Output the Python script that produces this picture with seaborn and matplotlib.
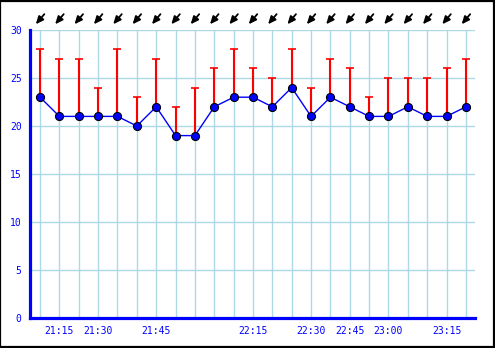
import numpy as np
import pandas as pd
import matplotlib
matplotlib.use("Agg")
import matplotlib.pyplot as plt
import seaborn as sns
from matplotlib.patches import Rectangle

# ---- data ----
avg_speed = [23, 21, 21, 21, 21, 20, 22, 19, 19, 22, 23, 23, 22, 24, 21, 23, 22, 21, 21, 22, 21, 21, 22]
gust_speed = [28, 27, 27, 24, 28, 23, 27, 22, 24, 26, 28, 26, 25, 28, 24, 27, 26, 23, 25, 25, 25, 26, 27]
tick_labels = ["", "21:15", "", "21:30", "", "", "21:45", "", "", "", "", "22:15",
               "", "", "22:30", "", "22:45", "", "23:00", "", "", "23:15", ""]
y_ticks = [0, 5, 10, 15, 20, 25, 30]

df = pd.DataFrame({"idx": np.arange(len(avg_speed)), "avg": avg_speed, "gust": gust_speed})

sns.set_style("white")
plt.rcParams["font.family"] = ["DejaVu Sans Mono", "DejaVu Sans"]

BLUE = "#0000ff"
GRID = "#add8e6"

fig = plt.figure(figsize=(4.95, 3.48), dpi=100)
ax = fig.add_axes([30 / 495, 30 / 348, 445 / 495, 288 / 348])

# grid
for y in y_ticks:
    ax.axhline(y, color=GRID, lw=1, zorder=0)
for i in df["idx"]:
    ax.axvline(i, color=GRID, lw=1, zorder=0)

# gust stems
upper = df["gust"] - df["avg"]
ax.errorbar(df["idx"], df["avg"], yerr=[np.zeros(len(df)), upper], fmt="none",
            ecolor="red", elinewidth=1.5, capsize=3, capthick=1.2, zorder=2)

# average line with markers
sns.lineplot(data=df, x="idx", y="avg", ax=ax, color=BLUE, lw=1, marker="o",
             markersize=5.8, markerfacecolor=BLUE, markeredgecolor="black",
             markeredgewidth=0.8, zorder=3)

# direction arrows above plot
for i in df["idx"]:
    ax.annotate("", xy=(i - 0.22, 1.02), xycoords=("data", "axes fraction"),
                xytext=(i + 0.22, 1.055), textcoords=("data", "axes fraction"),
                arrowprops=dict(arrowstyle="-|>,head_length=0.45,head_width=0.2",
                                color="black", lw=1.3, shrinkA=0, shrinkB=0),
                annotation_clip=False)

ax.set_xlim(-0.52, len(df) - 1 + 0.47)
ax.set_ylim(0, 30)
ax.set_yticks(y_ticks)
ax.set_xticks(df["idx"])
ax.set_xticklabels(tick_labels)
ax.set_xlabel("")
ax.set_ylabel("")

ax.tick_params(axis="y", length=0, pad=6, labelcolor=BLUE, labelsize=7)
ax.tick_params(axis="x", direction="in", length=3.6, width=1.2, color=BLUE,
               pad=6, labelcolor=BLUE, labelsize=7)

for s in ["top", "right"]:
    ax.spines[s].set_visible(False)
for s in ["left", "bottom"]:
    ax.spines[s].set_color(BLUE)
    ax.spines[s].set_linewidth(2.3)

fig.patches.append(Rectangle((0.001, 0.002), 0.996, 0.996, transform=fig.transFigure,
                             fill=False, edgecolor="black", lw=1.6))

fig.savefig("out.png", dpi=100)
